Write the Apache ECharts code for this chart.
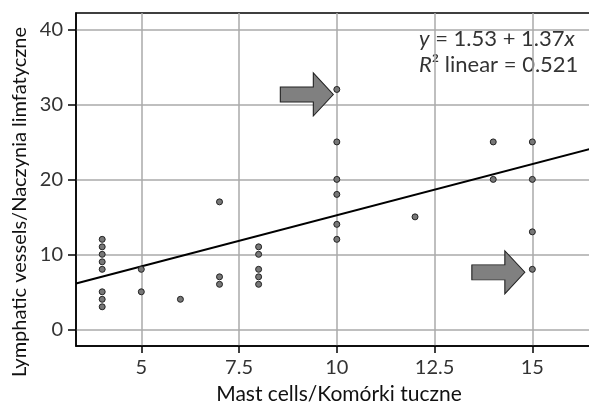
<!DOCTYPE html>
<html>
<head>
<meta charset="utf-8">
<script src="https://cdn.jsdelivr.net/npm/echarts@6/dist/echarts.min.js"></script>
<style>
  * { margin: 0; padding: 0; }
  body { background: #fff; }
  #main { width: 589px; height: 403px; }
</style>
</head>
<body>
<div id="main"></div>
<script>
// mast cells (x) vs lymphatic vessels (y)
var mastCells = [4, 4, 4, 4, 4, 4, 4, 4,
                 5, 5,
                 6,
                 7, 7, 7,
                 8, 8, 8, 8, 8,
                 10, 10, 10, 10, 10, 10,
                 12,
                 14, 14,
                 15, 15, 15, 15];
var lymphVessels = [12, 11, 10, 9, 8, 5, 4, 3,
                    8, 5,
                    4,
                    17, 7, 6,
                    11, 10, 8, 7, 6,
                    32, 25, 20, 18, 14, 12,
                    15,
                    25, 20,
                    25, 20, 13, 8];

// fitted line ends (y = 1.53 + 1.37x), read at the plot edges
var fitX = [3.33, 16.5];
var fitY = [6.1, 24.1];

// points marked with arrows
var arrowTargets = [[10, 32], [15, 8]];

var xTicks = [5, 7.5, 10, 12.5, 15];
var yTicks = [0, 10, 20, 30, 40];

var points = mastCells.map(function (x, i) { return [x, lymphVessels[i]]; });
var fitLine = fitX.map(function (x, i) { return [x, fitY[i]]; });

var FONT = 'Lato';
var arrowPath = 'path://M0,14 L33,14 L33,0 L53,21.5 L33,43 L33,29 L0,29 Z';

var chart = echarts.init(document.getElementById('main'));
chart.setOption({
    animation: false,
    textStyle: { fontFamily: FONT },
    grid: {
        left: 76, right: -2, top: 13, bottom: 57,
        outerBoundsMode: 'none',
        containLabel: false,
        show: true,
        borderColor: '#000',
        borderWidth: 1.5
    },
    xAxis: {
        type: 'value',
        min: 3.33,
        max: 16.5,
        name: 'Mast cells/Komórki tuczne',
        nameLocation: 'middle',
        nameGap: 38,
        nameTextStyle: { fontSize: 21, color: '#111', fontFamily: FONT, padding: [0, 0, 0, 11] },
        axisLine: { onZero: false, lineStyle: { color: '#000', width: 1.5 } },
        axisTick: { show: true, length: 7, customValues: xTicks, lineStyle: { color: '#000', width: 1.5 } },
        axisLabel: { customValues: xTicks, fontSize: 20, color: '#333', margin: 12 },
        splitLine: { show: true, lineStyle: { color: '#aaa', width: 1.5 } }
    },
    yAxis: {
        type: 'value',
        min: -2.23,
        max: 42.2,
        axisLine: { show: true, onZero: false, lineStyle: { color: '#000', width: 1.5 } },
        axisTick: { show: true, length: 8, customValues: yTicks, lineStyle: { color: '#000', width: 1.5 } },
        axisLabel: { customValues: yTicks, fontSize: 20, color: '#333', margin: 13 },
        splitLine: { show: true, lineStyle: { color: '#aaa', width: 1.5 } }
    },
    graphic: [
        {
            type: 'text',
            x: 20, y: 202,
            rotation: Math.PI / 2,
            style: {
                text: 'Lymphatic vessels/Naczynia limfatyczne',
                fontFamily: FONT, fontSize: 20, fill: '#111',
                align: 'center', verticalAlign: 'middle'
            }
        },
        {
            type: 'text',
            left: 419, top: 26,
            style: {
                text: '{i|y} = 1.53 + 1.37{i|x}\n{i|R}² linear = 0.521',
                fontFamily: FONT, fontSize: 22, fill: '#333', lineHeight: 26,
                rich: { i: { fontStyle: 'italic', fontFamily: FONT, fontSize: 22, fill: '#333' } }
            }
        }
    ],
    series: [
        {
            type: 'line',
            data: fitLine,
            showSymbol: false,
            lineStyle: { color: '#000', width: 2 },
            z: 2
        },
        {
            type: 'scatter',
            data: points,
            symbolSize: 6,
            itemStyle: { color: '#777', borderColor: '#222', borderWidth: 1, opacity: 1 },
            z: 3,
            markPoint: {
                symbol: arrowPath,
                symbolSize: [53, 43],
                label: { show: false },
                itemStyle: { color: '#808080', borderColor: '#222', borderWidth: 1 },
                data: [
                    { coord: arrowTargets[0], symbolOffset: [-30, 5] },
                    { coord: arrowTargets[1], symbolOffset: [-34, 3] }
                ]
            }
        }
    ]
});
</script>
</body>
</html>
